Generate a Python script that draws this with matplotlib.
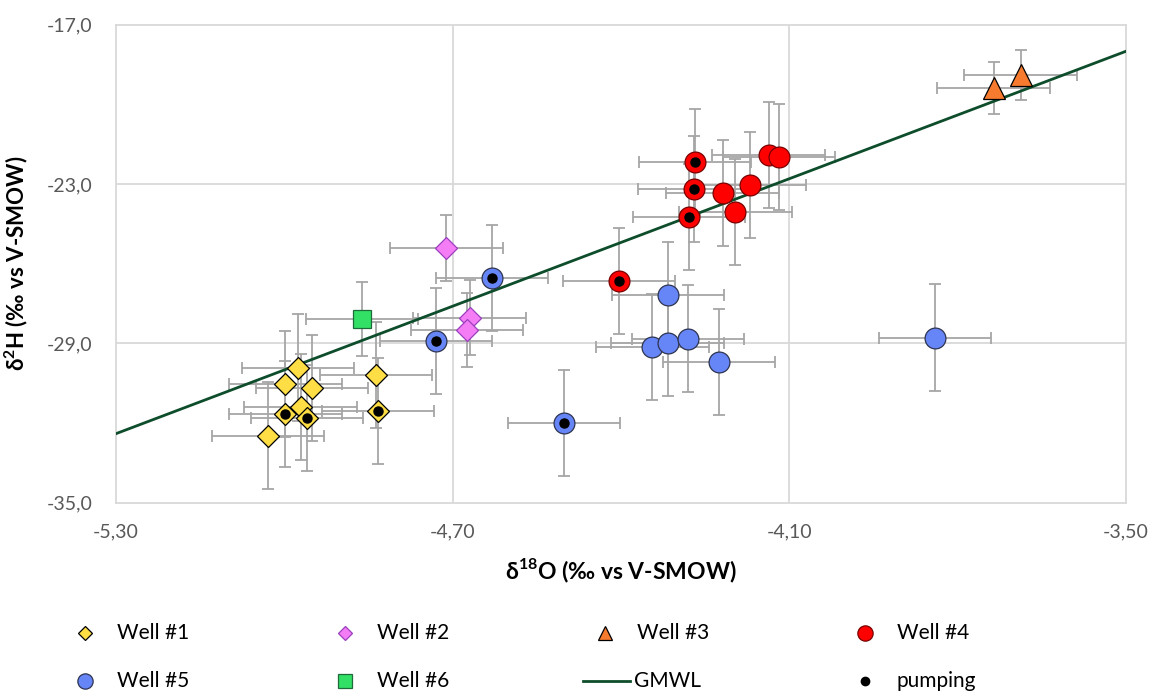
import matplotlib
matplotlib.use('Agg')
import matplotlib.pyplot as plt
from matplotlib.lines import Line2D
import numpy as np

plt.rcParams['font.family'] = ['Lato', 'DejaVu Sans']
plt.rcParams['mathtext.fontset'] = 'custom'
plt.rcParams['mathtext.rm'] = 'Lato'
plt.rcParams['mathtext.bf'] = 'Lato:bold'

# ---------------- data ----------------
w1_x = [-4.975, -4.998, -4.951, -4.837, -4.971, -4.998, -4.959, -4.833, -5.029]
w1_y = [-29.91, -30.53, -30.69, -30.20, -31.41, -31.65, -31.82, -31.54, -32.47]
w1_pump = [0, 0, 0, 0, 0, 1, 1, 1, 0]
w1_xerr = [0.1] * 9
w1_yerr = [2.0] * 9

w2_x = [-4.711, -4.670, -4.674]
w2_y = [-25.40, -28.03, -28.49]
w2_pump = [0, 0, 0]
w2_xerr = [0.1] * 3
w2_yerr = [1.25, 1.4, 1.4]

w3_x = [-3.736, -3.688]
w3_y = [-19.39, -18.89]
w3_pump = [0, 0]
w3_xerr = [0.1, 0.1]
w3_yerr = [0.97, 0.95]

w4_x = [-4.268, -4.270, -4.279, -4.404, -4.219, -4.170, -4.196, -4.137, -4.118]
w4_y = [-22.16, -23.19, -24.23, -26.64, -23.33, -23.05, -24.04, -21.92, -21.97]
w4_pump = [1, 1, 1, 1, 0, 0, 0, 0, 0]
w4_xerr = [0.1] * 9
w4_yerr = [2.0] * 9

w5_x = [-4.630, -4.730, -4.502, -4.316, -4.344, -4.317, -4.281, -4.225, -3.840]
w5_y = [-26.55, -28.90, -32.01, -27.18, -29.15, -28.97, -28.82, -29.71, -28.78]
w5_pump = [1, 1, 1, 0, 0, 0, 0, 0, 0]
w5_xerr = [0.1] * 9
w5_yerr = [2.0] * 9

w6_x = [-4.862]
w6_y = [-28.09]
w6_pump = [0]
w6_xerr = [0.1]
w6_yerr = [1.4]

gmwl_slope = 8.0
gmwl_intercept = 10.0

x_ticks = [-5.30, -4.70, -4.10, -3.50]
x_ticklabels = ['-5,30', '-4,70', '-4,10', '-3,50']
y_ticks = [-35.0, -29.0, -23.0, -17.0]
y_ticklabels = ['-35,0', '-29,0', '-23,0', '-17,0']

legend_labels = ['Well #1', 'Well #2', 'Well #3', 'Well #4',
                 'Well #5', 'Well #6', 'GMWL', 'pumping']

# ---------------- styles ----------------
series = [
    dict(x=w1_x, y=w1_y, p=w1_pump, xe=w1_xerr, ye=w1_yerr, m='D', ms=11.5, fc='#FFDD44', ec='#000000'),
    dict(x=w2_x, y=w2_y, p=w2_pump, xe=w2_xerr, ye=w2_yerr, m='D', ms=11.5, fc='#F47CF4', ec='#9B3FBF'),
    dict(x=w3_x, y=w3_y, p=w3_pump, xe=w3_xerr, ye=w3_yerr, m='^', ms=16.5, fc='#F77B2F', ec='#000000'),
    dict(x=w4_x, y=w4_y, p=w4_pump, xe=w4_xerr, ye=w4_yerr, m='o', ms=15, fc='#FF0000', ec='#7A0000'),
    dict(x=w5_x, y=w5_y, p=w5_pump, xe=w5_xerr, ye=w5_yerr, m='o', ms=15, fc='#6685F7', ec='#2E3450'),
    dict(x=w6_x, y=w6_y, p=w6_pump, xe=w6_xerr, ye=w6_yerr, m='s', ms=13, fc='#33E066', ec='#1C6B38'),
]
err_color = '#A6A6A6'
grid_color = '#D9D9D9'
line_color = '#0E4D2B'
tick_color = '#595959'

fig = plt.figure(figsize=(11.58, 6.93), dpi=100)
ax = fig.add_axes([116/1158, 1 - 502.7/693, (1126-116)/1158, (502.7-24.7)/693])

ax.set_xlim(x_ticks[0], x_ticks[-1])
ax.set_ylim(y_ticks[0], y_ticks[-1])

# grid
for xv in x_ticks[1:-1]:
    ax.axvline(xv, color=grid_color, lw=1.3, zorder=0)
for yv in y_ticks[1:-1]:
    ax.axhline(yv, color=grid_color, lw=1.3, zorder=0)
for sp in ax.spines.values():
    sp.set_color(grid_color)
    sp.set_linewidth(1.3)

# error bars
for s in series:
    ax.errorbar(s['x'], s['y'], xerr=s['xe'], yerr=s['ye'], fmt='none',
                ecolor=err_color, elinewidth=1.3, capsize=4.5, capthick=1.3, zorder=2)

# GMWL
gx = np.array([x_ticks[0], x_ticks[-1]])
ax.plot(gx, gmwl_slope * gx + gmwl_intercept, color=line_color, lw=2.0, zorder=3)

# markers
for s in series:
    ax.plot(s['x'], s['y'], linestyle='none', marker=s['m'], ms=s['ms'],
            mfc=s['fc'], mec=s['ec'], mew=0.9, zorder=4)

# pumping dots
for s in series:
    px = [xv for xv, pv in zip(s['x'], s['p']) if pv]
    py = [yv for yv, pv in zip(s['y'], s['p']) if pv]
    if px:
        ax.plot(px, py, linestyle='none', marker='o', ms=6.5, mfc='black',
                mec='black', zorder=5)

ax.set_xticks(x_ticks)
ax.set_xticklabels(x_ticklabels)
ax.set_yticks(y_ticks)
ax.set_yticklabels(y_ticklabels)
ax.tick_params(axis='both', length=0, labelsize=14, labelcolor=tick_color)
ax.tick_params(axis='y', pad=17)
ax.tick_params(axis='x', pad=15)

ax.set_xlabel(r'δ$^{\mathbf{18}}$O (‰ vs V-SMOW)', fontsize=16.5, fontweight='bold',
              color='#000000', labelpad=12)
ax.set_ylabel(r'δ$^{\mathbf{2}}$H (‰ vs V-SMOW)', fontsize=16, fontweight='bold',
              color='#000000', labelpad=12)

# legend (manual layout)
col_x = [85, 345, 605, 865]
row_y = [632.7, 680.7]
W, H = 1158, 693
for i, lab in enumerate(legend_labels):
    r, c = divmod(i, 4)
    mx = col_x[c] / W
    my = 1 - row_y[r] / H
    tx = (col_x[c] + 32) / W
    if lab == 'GMWL':
        fig.add_artist(Line2D([583 / W, 630 / W], [my, my], transform=fig.transFigure,
                              color=line_color, lw=2.0))
        tx = 634 / W
    elif lab == 'pumping':
        fig.add_artist(Line2D([mx], [my], transform=fig.transFigure, marker='o',
                              ms=6, mfc='black', mec='black', linestyle='none'))
    else:
        s = series[int(lab[-1]) - 1]
        msz = {'D': 7.5, '^': 9.5, 'o': 11, 's': 10.5}[s['m']]
        fig.add_artist(Line2D([mx], [my], transform=fig.transFigure, marker=s['m'],
                              ms=msz, mfc=s['fc'], mec=s['ec'], mew=0.9, linestyle='none'))
    fig.text(tx, my, lab, fontsize=15, va='center', ha='left', color='#000000')

fig.savefig('out.png', dpi=100)
